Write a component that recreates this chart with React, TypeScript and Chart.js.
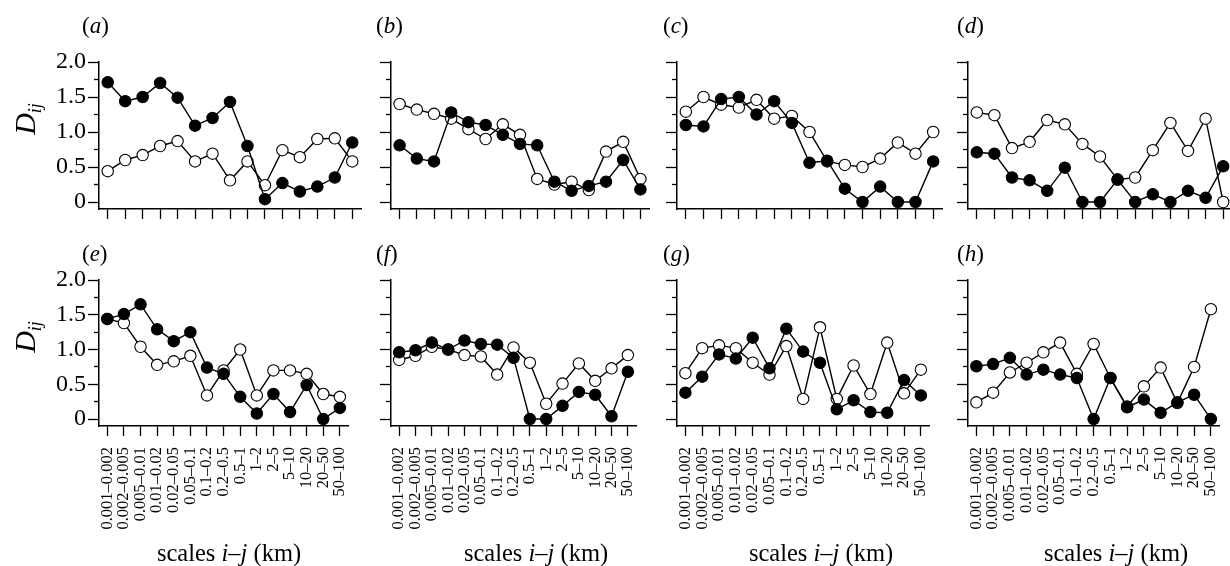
import React, { useEffect, useRef } from 'react';
import { Chart, registerables } from 'chart.js';

Chart.register(...registerables);

const categories = [
  '0.001–0.002', '0.002–0.005', '0.005–0.01', '0.01–0.02', '0.02–0.05',
  '0.05–0.1', '0.1–0.2', '0.2–0.5', '0.5–1', '1–2', '2–5', '5–10',
  '10–20', '20–50', '50–100',
];

const panelLetters = ['a', 'b', 'c', 'd', 'e', 'f', 'g', 'h'];

const filledA = [1.71, 1.44, 1.50, 1.70, 1.49, 1.09, 1.20, 1.43, 0.80, 0.04, 0.27, 0.15, 0.22, 0.35, 0.85];
const openA = [0.44, 0.60, 0.67, 0.80, 0.87, 0.58, 0.69, 0.31, 0.58, 0.24, 0.74, 0.64, 0.90, 0.91, 0.58];

const filledB = [0.81, 0.62, 0.58, 1.28, 1.14, 1.10, 0.96, 0.83, 0.81, 0.29, 0.16, 0.23, 0.29, 0.60, 0.18];
const openB = [1.40, 1.32, 1.26, 1.19, 1.04, 0.90, 1.11, 0.96, 0.33, 0.25, 0.29, 0.17, 0.72, 0.86, 0.33];

const filledC = [1.10, 1.08, 1.47, 1.50, 1.25, 1.44, 1.13, 0.56, 0.59, 0.19, 0, 0.22, 0, 0, 0.58];
const openC = [1.29, 1.50, 1.39, 1.35, 1.46, 1.19, 1.23, 1.00, 0.58, 0.53, 0.50, 0.62, 0.85, 0.69, 1.00];

const filledD = [0.71, 0.69, 0.35, 0.31, 0.16, 0.49, 0, 0, 0.32, 0, 0.11, 0, 0.16, 0.06, 0.51];
const openD = [1.28, 1.24, 0.77, 0.86, 1.17, 1.11, 0.83, 0.65, 0.32, 0.35, 0.74, 1.13, 0.73, 1.19, 0];

const filledE = [1.44, 1.51, 1.65, 1.29, 1.12, 1.25, 0.74, 0.65, 0.32, 0.08, 0.36, 0.10, 0.49, 0, 0.16];
const openE = [1.44, 1.38, 1.04, 0.78, 0.83, 0.91, 0.34, 0.70, 1.00, 0.34, 0.70, 0.70, 0.65, 0.36, 0.32];

const filledF = [0.96, 0.99, 1.10, 1.00, 1.13, 1.08, 1.07, 0.88, 0, 0, 0.19, 0.39, 0.35, 0.04, 0.68];
const openF = [0.85, 0.91, 1.04, 1.00, 0.92, 0.90, 0.64, 1.03, 0.81, 0.22, 0.51, 0.80, 0.55, 0.73, 0.92];

const filledG = [0.38, 0.61, 0.93, 0.87, 1.17, 0.73, 1.30, 0.97, 0.81, 0.14, 0.27, 0.10, 0.09, 0.56, 0.34];
const openG = [0.66, 1.02, 1.06, 1.02, 0.81, 0.64, 1.05, 0.29, 1.32, 0.29, 0.77, 0.36, 1.10, 0.37, 0.71];

const filledH = [0.76, 0.79, 0.88, 0.64, 0.71, 0.64, 0.59, 0, 0.59, 0.17, 0.28, 0.09, 0.24, 0.35, 0];
const openH = [0.24, 0.38, 0.67, 0.81, 0.96, 1.10, 0.65, 1.08, 0.59, 0.18, 0.47, 0.74, 0.23, 0.75, 1.58];

const filledSeries = [filledA, filledB, filledC, filledD, filledE, filledF, filledG, filledH];
const openSeries = [openA, openB, openC, openD, openE, openF, openG, openH];

const yTickValues = [0, 0.25, 0.5, 0.75, 1.0, 1.25, 1.5, 1.75, 2.0];
const yMajorTicks = [0, 0.5, 1.0, 1.5, 2.0];

const FONT = '"Liberation Serif", "Times New Roman", Times, serif';

// layout (page pixels)
const COL_AXIS_X = [99, 391, 677, 968];
const COL_RIGHT = [361, 649, 942, 1232];
const ROW_TOP = [62, 280];
const ROW_BOTTOM = [209, 426];
const CANVAS_TOP = [0, 236];
const CANVAS_H = [236, 330];
const LEFT_MARGIN = 100;
const RIGHT_MARGIN = 10;
const LABEL_X = [82, 376, 663, 957];
const LABEL_BASE = [33, 261];
const TITLE_CX = [229, 536, 821, 1116];
const TITLE_BASE = 561;

type Part = { text: string; italic?: boolean; size: number; dy?: number };

function partsWidth(ctx: CanvasRenderingContext2D, parts: Part[]) {
  let w = 0;
  for (const p of parts) {
    ctx.font = `${p.italic ? 'italic ' : ''}${p.size}px ${FONT}`;
    w += ctx.measureText(p.text).width;
  }
  return w;
}

function drawParts(ctx: CanvasRenderingContext2D, parts: Part[], x: number, y: number) {
  let cx = x;
  ctx.textBaseline = 'alphabetic';
  ctx.textAlign = 'left';
  for (const p of parts) {
    ctx.font = `${p.italic ? 'italic ' : ''}${p.size}px ${FONT}`;
    ctx.fillText(p.text, cx, y + (p.dy || 0));
    cx += ctx.measureText(p.text).width;
  }
}

const decorPlugin = {
  id: 'decor',
  afterDraw(chart: any, _args: any, opts: any) {
    const ctx: CanvasRenderingContext2D = chart.ctx;
    const { col, row, letter, canvasLeft, canvasTop } = opts;
    ctx.save();
    ctx.fillStyle = '#000';
    // panel label
    drawParts(
      ctx,
      [
        { text: '(', size: 23 },
        { text: letter, italic: true, size: 23 },
        { text: ')', size: 23 },
      ],
      LABEL_X[col] - canvasLeft,
      LABEL_BASE[row] - canvasTop,
    );
    // y-axis title
    if (col === 0) {
      const parts: Part[] = [
        { text: 'D', italic: true, size: 30 },
        { text: 'ij', italic: true, size: 18, dy: 6 },
      ];
      const w = partsWidth(ctx, parts);
      ctx.save();
      ctx.translate(35 - canvasLeft, ROW_TOP[row] + 57 - canvasTop);
      ctx.rotate(-Math.PI / 2);
      drawParts(ctx, parts, -w / 2, 0);
      ctx.restore();
    }
    // x-axis title
    if (row === 1) {
      const parts: Part[] = [
        { text: 'scales ', size: 24.5 },
        { text: 'i', italic: true, size: 24.5 },
        { text: '–', size: 24.5 },
        { text: 'j', italic: true, size: 24.5 },
        { text: ' (km)', size: 24.5 },
      ];
      const w = partsWidth(ctx, parts);
      drawParts(ctx, parts, TITLE_CX[col] - w / 2 - canvasLeft, TITLE_BASE - canvasTop);
    }
    ctx.restore();
  },
};

function isMajor(v: number) {
  return yMajorTicks.some((m) => Math.abs(m - v) < 1e-6);
}

function Panel({ index }: { index: number }) {
  const ref = useRef<HTMLCanvasElement>(null);
  const col = index % 4;
  const row = Math.floor(index / 4);
  const canvasLeft = COL_AXIS_X[col] - LEFT_MARGIN;
  const canvasTop = CANVAS_TOP[row];
  const width = COL_RIGHT[col] - COL_AXIS_X[col] + LEFT_MARGIN + RIGHT_MARGIN;
  const height = CANVAS_H[row];

  useEffect(() => {
    if (!ref.current) return;
    const lineStyle = {
      borderColor: '#000',
      borderWidth: 1.4,
      pointRadius: 5.7,
      pointHoverRadius: 5.7,
      pointBorderColor: '#000',
      pointBorderWidth: 1.1,
      tension: 0,
      fill: false,
      clip: false as any,
    };
    const chart = new Chart(ref.current, {
      type: 'line',
      data: {
        labels: categories,
        datasets: [
          { ...lineStyle, data: filledSeries[index], pointBackgroundColor: '#000', backgroundColor: '#000' },
          { ...lineStyle, data: openSeries[index], pointBackgroundColor: '#fff', backgroundColor: '#fff' },
        ],
      },
      options: {
        responsive: false,
        animation: false,
        devicePixelRatio: 1,
        events: [],
        layout: {
          padding: { top: ROW_TOP[row] - canvasTop, left: 0, right: RIGHT_MARGIN, bottom: 0 },
        },
        plugins: {
          legend: { display: false },
          tooltip: { enabled: false },
          decor: { col, row, letter: panelLetters[index], canvasLeft, canvasTop },
        } as any,
        scales: {
          x: {
            type: 'category',
            offset: true,
            grid: {
              offset: false,
              drawOnChartArea: false,
              drawTicks: true,
              tickLength: 10,
              tickColor: '#000',
              tickWidth: 1.3,
            },
            border: { display: true, color: '#000', width: 1.5 },
            ticks: {
              autoSkip: false,
              minRotation: row === 1 ? 90 : 0,
              maxRotation: row === 1 ? 90 : 0,
              padding: 11,
              color: '#000',
              font: { family: FONT, size: 16.5 },
              callback: (_v: any, i: number) => (row === 1 ? categories[i] : ''),
            },
            afterFit: (s: any) => {
              s.height = CANVAS_H[row] - (ROW_BOTTOM[row] - canvasTop);
            },
          },
          y: {
            type: 'linear',
            min: -0.1,
            max: 2.0,
            grid: {
              drawOnChartArea: false,
              drawTicks: true,
              tickLength: 11,
              tickColor: '#000',
              tickWidth: 1.3,
              tickBorderDash: (c: any) => (c.tick && isMajor(c.tick.value) ? [] : [5, 6]),
              tickBorderDashOffset: (c: any) => (c.tick && isMajor(c.tick.value) ? 0 : 5),
            },
            border: { display: true, color: '#000', width: 1.5 },
            ticks: {
              autoSkip: false,
              padding: 2,
              color: '#000',
              font: { family: FONT, size: 24 },
              callback: (v: any) => {
                if (col !== 0) return '';
                const n = Number(v);
                if (Math.abs(n) < 1e-6) return '0';
                return isMajor(n) ? n.toFixed(1) : '';
              },
            },
            afterBuildTicks: (s: any) => {
              s.ticks = yTickValues.map((v) => ({ value: v }));
            },
            afterFit: (s: any) => {
              s.width = LEFT_MARGIN;
            },
          },
        },
      } as any,
      plugins: [decorPlugin],
    });
    return () => chart.destroy();
  }, [index]);

  return (
    <canvas
      ref={ref}
      width={width}
      height={height}
      style={{ position: 'absolute', left: canvasLeft, top: canvasTop, width, height }}
    />
  );
}

export default function App() {
  return (
    <div
      style={{
        position: 'absolute',
        left: 0,
        top: 0,
        width: 1230,
        height: 566,
        overflow: 'hidden',
        background: '#fff',
      }}
    >
      {panelLetters.map((_, i) => (
        <Panel key={i} index={i} />
      ))}
    </div>
  );
}
